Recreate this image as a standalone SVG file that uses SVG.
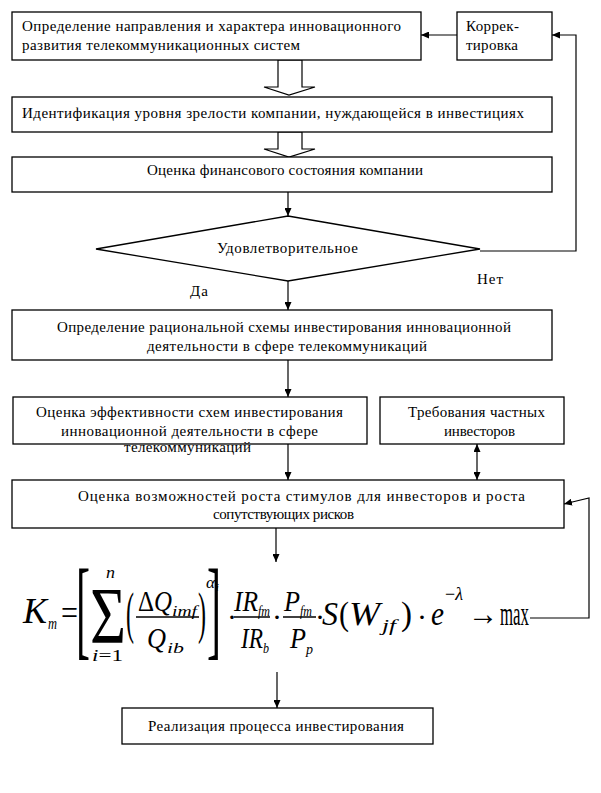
<svg xmlns="http://www.w3.org/2000/svg" width="601" height="793" viewBox="0 0 601 793" font-family="'Liberation Serif', serif">
<style>
.box{fill:#fff;stroke:#000;stroke-width:1.3}
.t{font-family:'Liberation Serif',serif;font-size:15px;fill:#000}
.c{fill:none;stroke:#000;stroke-width:1.2}
.f{font-family:'Liberation Serif',serif;fill:#000}
.i{font-style:italic}
</style>
<defs>
<marker id="ah" markerWidth="8" markerHeight="7" refX="8" refY="3.5" orient="auto" markerUnits="userSpaceOnUse">
<path d="M0,0 L8,3.5 L0,7 z" fill="#000"/>
</marker>
<marker id="as" markerWidth="8" markerHeight="7" refX="0" refY="3.5" orient="auto" markerUnits="userSpaceOnUse">
<path d="M8,0 L0,3.5 L8,7 z" fill="#000"/>
</marker>
</defs>
<rect width="601" height="793" fill="#fff"/>

<g id="connectors">
<line class="c" x1="457" y1="35" x2="421" y2="35" marker-end="url(#ah)"/>
<polyline class="c" points="480,251 576,251 576,35 552,35" marker-end="url(#ah)"/>
<polygon class="c" points="278,60 278,87 264,87 289,95 315,87 302,87 302,60"/>
<polygon class="c" points="278,132 278,149 264,149 289,157 315,149 302,149 302,132"/>
<line class="c" x1="288" y1="192" x2="288" y2="216" marker-end="url(#ah)"/>
<line class="c" x1="288" y1="281" x2="288" y2="310" marker-end="url(#ah)"/>
<line class="c" x1="288" y1="360" x2="288" y2="397" marker-end="url(#ah)"/>
<line class="c" x1="288" y1="444" x2="288" y2="480" marker-end="url(#ah)"/>
<line class="c" x1="477" y1="444" x2="477" y2="480" marker-start="url(#as)" marker-end="url(#ah)"/>
<line class="c" x1="276" y1="528" x2="276" y2="562" marker-end="url(#ah)"/>
<line class="c" x1="277" y1="672" x2="277" y2="708" marker-end="url(#ah)"/>
<polyline class="c" points="530,618 589,618 589,498 564,504" marker-end="url(#ah)"/>
</g>

<g id="n1"><rect class="box" x="12" y="12" width="409" height="48"/>
<text class="t" x="22" y="31" textLength="379" lengthAdjust="spacing">Определение направления и характера инновационного</text>
<text class="t" x="22" y="50" textLength="278" lengthAdjust="spacing">развития телекоммуникационных систем</text></g>

<g id="n_korr"><rect class="box" x="457" y="12" width="95" height="48"/>
<text class="t" x="466" y="31" textLength="53" lengthAdjust="spacing">Коррек-</text>
<text class="t" x="466" y="50" textLength="52" lengthAdjust="spacing">тировка</text></g>

<g id="n2"><rect class="box" x="12" y="97" width="540" height="35"/>
<text class="t" x="22" y="118" textLength="502" lengthAdjust="spacing">Идентификация уровня зрелости компании, нуждающейся в инвестициях</text></g>

<g id="n3"><rect class="box" x="12" y="157" width="540" height="35"/>
<text class="t" x="147" y="175" textLength="276" lengthAdjust="spacing">Оценка финансового состояния компании</text></g>

<g id="n_dec"><polygon class="box" points="288,216 480,249 288,281 96,249"/>
<text class="t" x="217" y="253" textLength="141" lengthAdjust="spacing">Удовлетворительное</text></g>

<g id="lbl_yes"><text class="t" x="190" y="296" textLength="18" lengthAdjust="spacing">Да</text></g>
<g id="lbl_no"><text class="t" x="477" y="284" textLength="26" lengthAdjust="spacing">Нет</text></g>

<g id="n4"><rect class="box" x="12" y="310" width="540" height="50"/>
<text class="t" x="57" y="332" textLength="454" lengthAdjust="spacing">Определение рациональной схемы инвестирования инновационной</text>
<text class="t" x="147" y="351" textLength="280" lengthAdjust="spacing">деятельности в сфере телекоммуникаций</text></g>

<g id="n5"><rect class="box" x="13" y="397" width="354" height="47"/>
<text class="t" x="36" y="417" textLength="307" lengthAdjust="spacing">Оценка эффективности схем инвестирования</text>
<text class="t" x="61" y="436" textLength="257" lengthAdjust="spacing">инновационной деятельности в сфере</text>
<text class="t" x="124" y="452" textLength="127" lengthAdjust="spacing">телекоммуникаций</text></g>

<g id="n_treb"><rect class="box" x="380" y="397" width="184" height="47"/>
<text class="t" x="408" y="417" textLength="137" lengthAdjust="spacing">Требования частных</text>
<text class="t" x="444" y="436" textLength="71" lengthAdjust="spacing">инвесторов</text></g>

<g id="n6"><rect class="box" x="12" y="480" width="552" height="48"/>
<text class="t" x="78" y="501" textLength="447" lengthAdjust="spacing">Оценка возможностей роста стимулов для инвесторов и роста</text>
<text class="t" x="213" y="519" textLength="141" lengthAdjust="spacing">сопутствующих рисков</text></g>

<g id="formula">
<text class="f i" x="23" y="623" font-size="36" textLength="24" lengthAdjust="spacingAndGlyphs">K</text>
<text class="f i" x="48" y="629" font-size="16" textLength="9" lengthAdjust="spacingAndGlyphs">m</text>
<text class="f" x="61" y="625" font-size="36" textLength="17" lengthAdjust="spacingAndGlyphs">=</text>
<text class="f" x="76" y="645" font-size="111" textLength="14" lengthAdjust="spacingAndGlyphs">[</text>
<text class="f" x="90" y="643" font-size="80" textLength="36" lengthAdjust="spacingAndGlyphs">Σ</text>
<text class="f i" x="106" y="578" font-size="16" textLength="9" lengthAdjust="spacingAndGlyphs">n</text>
<text class="f" x="92" y="661" font-size="17" textLength="31" lengthAdjust="spacingAndGlyphs"><tspan font-style="italic">i</tspan>=1</text>
<text class="f" x="126" y="632" font-size="56" textLength="8" lengthAdjust="spacingAndGlyphs">(</text>
<text class="f" x="138" y="611" font-size="30" textLength="34" lengthAdjust="spacingAndGlyphs">Δ<tspan font-style="italic">Q</tspan></text>
<text class="f i" x="172" y="616" font-size="15" textLength="25" lengthAdjust="spacingAndGlyphs">imf</text>
<line x1="136" y1="617" x2="199" y2="617" stroke="#000" stroke-width="1.5"/>
<text class="f i" x="147" y="648" font-size="30" textLength="19" lengthAdjust="spacingAndGlyphs">Q</text>
<text class="f i" x="167" y="653" font-size="15" textLength="17" lengthAdjust="spacingAndGlyphs">ib</text>
<text class="f" x="198" y="632" font-size="56" textLength="8" lengthAdjust="spacingAndGlyphs">)</text>
<text class="f i" x="206" y="588" font-size="17" textLength="9" lengthAdjust="spacingAndGlyphs">α</text>
<text class="f i" x="215.5" y="591" font-size="11" textLength="3.5" lengthAdjust="spacingAndGlyphs">i</text>
<text class="f" x="207" y="645" font-size="111" textLength="14" lengthAdjust="spacingAndGlyphs">]</text>
<text class="f" x="227" y="627" font-size="30">·</text>
<text class="f i" x="234" y="611" font-size="30" textLength="24" lengthAdjust="spacingAndGlyphs">IR</text>
<text class="f i" x="258" y="616" font-size="15" textLength="12" lengthAdjust="spacingAndGlyphs">fm</text>
<line x1="234" y1="617" x2="270" y2="617" stroke="#000" stroke-width="1.5"/>
<text class="f i" x="241" y="648" font-size="30" textLength="22" lengthAdjust="spacingAndGlyphs">IR</text>
<text class="f i" x="263" y="653" font-size="15" textLength="6" lengthAdjust="spacingAndGlyphs">b</text>
<text class="f" x="272" y="627" font-size="30">·</text>
<text class="f i" x="284" y="611" font-size="30" textLength="16" lengthAdjust="spacingAndGlyphs">P</text>
<text class="f i" x="300" y="616" font-size="15" textLength="12" lengthAdjust="spacingAndGlyphs">fm</text>
<line x1="283" y1="617" x2="316" y2="617" stroke="#000" stroke-width="1.5"/>
<text class="f i" x="290" y="648" font-size="30" textLength="16" lengthAdjust="spacingAndGlyphs">P</text>
<text class="f i" x="306" y="654" font-size="15" textLength="7" lengthAdjust="spacingAndGlyphs">p</text>
<text class="f" x="315" y="627" font-size="30">·</text>
<text class="f i" x="322" y="625" font-size="34" textLength="16" lengthAdjust="spacingAndGlyphs">S</text>
<text class="f" x="339" y="625" font-size="34" textLength="10" lengthAdjust="spacingAndGlyphs">(</text>
<text class="f i" x="349" y="625" font-size="34" textLength="31" lengthAdjust="spacingAndGlyphs">W</text>
<text class="f i" x="382" y="631" font-size="16" textLength="14" lengthAdjust="spacingAndGlyphs">jf</text>
<text class="f" x="401" y="625" font-size="34" textLength="11" lengthAdjust="spacingAndGlyphs">)</text>
<text class="f" x="417" y="627" font-size="30">·</text>
<text class="f i" x="431" y="625" font-size="34" textLength="13" lengthAdjust="spacingAndGlyphs">e</text>
<text class="f" x="445" y="600" font-size="18" textLength="18" lengthAdjust="spacingAndGlyphs">−<tspan font-style="italic">λ</tspan></text>
<text class="f" x="468" y="625" font-size="34" textLength="30" lengthAdjust="spacingAndGlyphs">→</text>
<text class="f" x="500" y="625" font-size="34" textLength="29" lengthAdjust="spacingAndGlyphs">max</text>
</g>

<g id="n7"><rect class="box" x="122" y="708" width="311" height="36"/>
<text class="t" x="148" y="731" textLength="256" lengthAdjust="spacing">Реализация процесса инвестирования</text></g>
</svg>
